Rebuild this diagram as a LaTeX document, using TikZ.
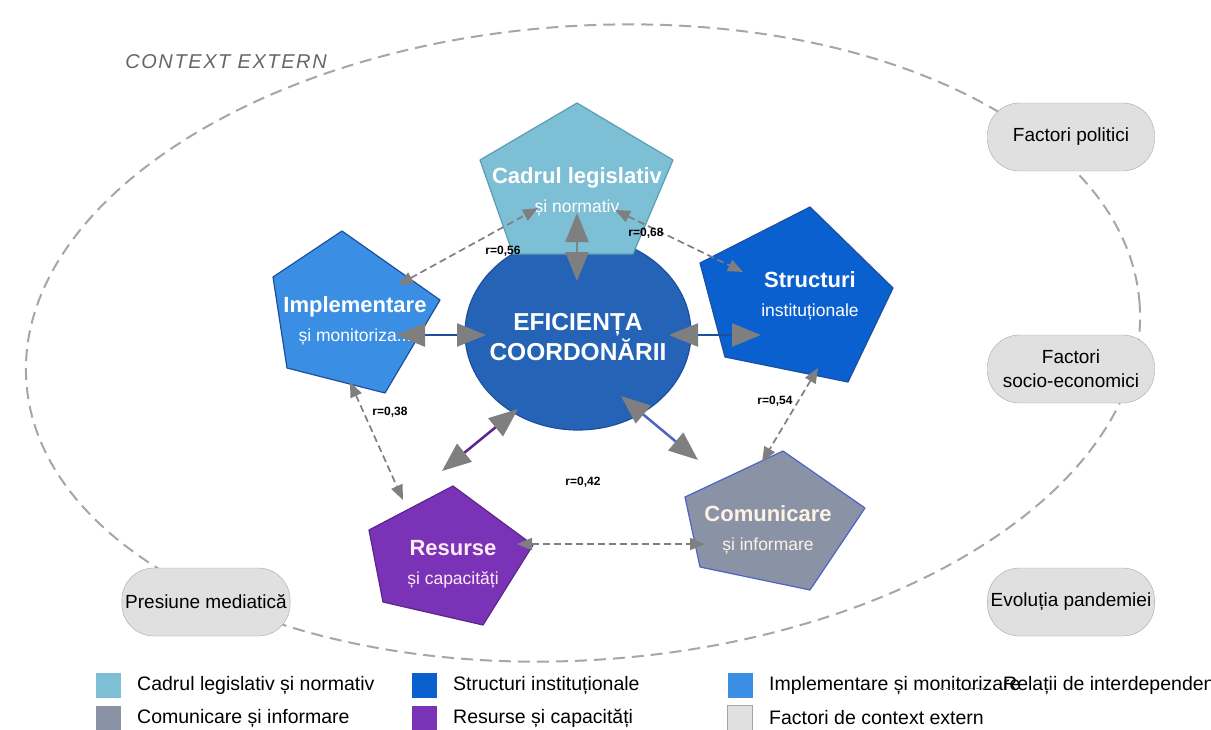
\documentclass[tikz,border=0pt]{standalone}
\usepackage{fontspec}
\setmainfont{Liberation Sans}
\newfontfamily\ctxfont[LetterSpace=8]{Liberation Sans}
\usetikzlibrary{arrows.meta,shapes.geometric}
\definecolor{cadruC}{HTML}{7DBFD4}
\definecolor{cadruB}{HTML}{5B9DB4}
\definecolor{implC}{HTML}{3A8FE4}
\definecolor{structC}{HTML}{0A60CF}
\definecolor{darkB}{HTML}{1D4F9E}
\definecolor{resC}{HTML}{7A33B6}
\definecolor{resB}{HTML}{5A2590}
\definecolor{comC}{HTML}{8A93A5}
\definecolor{comB}{HTML}{4E62C8}
\definecolor{effC}{HTML}{2563B6}
\definecolor{facC}{HTML}{E0E0E0}
\definecolor{facB}{HTML}{A6A6A6}
\definecolor{arrC}{HTML}{7F7F7F}
\newcommand{\subl}{\fontsize{17.5}{22}\selectfont\mdseries}
\begin{document}
\begin{tikzpicture}[x=1pt,y=1pt,
	pent/.style={line width=1.2pt, line join=round},
	ptext/.style={align=center, text=white, font=\fontsize{22}{29}\selectfont\bfseries},
	factor/.style={draw=facB, fill=facC, rounded corners=32pt, minimum width=167pt, minimum height=68pt, align=center, font=\fontsize{19}{24}\selectfont},
	link/.style={line width=2.5pt, {Triangle[length=29pt,width=23pt,color=arrC]}-{Triangle[length=29pt,width=23pt,color=arrC]}},
	rel/.style={arrC, line width=1.7pt, dash pattern=on 7pt off 4pt, {Triangle[length=15pt,width=12pt]}-{Triangle[length=15pt,width=12pt]}},
	rlabel/.style={font=\fontsize{12}{14}\selectfont\bfseries},
	legsq/.style={minimum size=25pt, inner sep=0pt},
	legtext/.style={anchor=west, inner sep=0pt, font=\fontsize{19.5}{22}\selectfont}]
	\useasboundingbox (0,0) rectangle (1211,-729);
	\clip (0,0) rectangle (1211,-729);
	\draw [facB, line width=2pt, dash pattern=on 12pt off 7pt, rotate around={4:(583,-343)}] (583,-343) ellipse (558 and 317);
	\node [text=black!60, font=\fontsize{20}{24}\selectfont\ctxfont\itshape] (ctx) at (226,-62) {CONTEXT EXTERN};
	\node [draw=darkB, fill=effC, line width=1.2pt, ellipse, minimum width=226pt, minimum height=194pt] (efic) at (578,-333) {};
	\node [align=center, text=white, font=\fontsize{24.5}{30}\selectfont\bfseries] (eficT) at (578,-337) {EFICIENȚA\\COORDONĂRII};
	\draw [pent, draw=cadruB, fill=cadruC] (577,-103) -- (673,-160) -- (633,-254) -- (513,-254) -- (480,-160) -- cycle;
	\node [ptext] (cadru) at (577,-192) {Cadrul legislativ\\\subl și normativ};
	\draw [pent, draw=darkB, fill=implC] (342,-231) -- (440,-300) -- (385,-393) -- (287,-368) -- (273,-277) -- cycle;
	\node [ptext] (impl) at (355,-321) {Implementare\\\subl și monitoriza...};
	\draw [pent, draw=darkB, fill=structC] (810,-207) -- (893,-288) -- (848,-382) -- (725,-357) -- (700,-263) -- cycle;
	\node [ptext] (struct) at (810,-296) {Structuri\\\subl instituționale};
	\draw [pent, draw=resB, fill=resC] (453,-486) -- (533,-545) -- (483,-625) -- (383,-602) -- (369,-530) -- cycle;
	\node [ptext, text=white!92!magenta] (res) at (453,-564) {Resurse\\\subl și capacități};
	\draw [pent, draw=comB, fill=comC] (783,-451) -- (865,-508) -- (810,-590) -- (700,-567) -- (685,-497) -- cycle;
	\node [ptext, text=white!90!orange] (com) at (768,-530) {Comunicare\\\subl și informare};
	\node [factor] (pol) at (1071,-137) {Factori politici};
	\node [factor] (soc) at (1071,-369) {Factori\\socio-economici};
	\node [factor] (pand) at (1071,-602) {Evoluția pandemiei};
	\node [factor] (media) at (206,-602) {Presiune mediatică};
	\coordinate (cadruIn) at (577,-213);
	\coordinate (eficN) at (577,-281);
	\coordinate (implIn) at (396,-335);
	\coordinate (eficW) at (486,-335);
	\coordinate (structIn) at (761,-335);
	\coordinate (eficE) at (669,-335);
	\coordinate (resIn) at (442,-471);
	\coordinate (eficSW) at (518,-409);
	\coordinate (comIn) at (698,-460);
	\coordinate (eficSE) at (621,-396);
	\draw [link, arrC!80!cadruB] (cadruIn) -- (eficN);
	\draw [link, darkB] (implIn) -- (eficW);
	\draw [link, darkB] (eficE) -- (structIn);
	\draw [link, resB] (resIn) -- (eficSW);
	\draw [link, comB] (eficSE) -- (comIn);
	\coordinate (implNE) at (398,-285);
	\coordinate (cadruW) at (538,-208);
	\coordinate (cadruE) at (615,-210);
	\coordinate (structW) at (743,-272);
	\coordinate (implS) at (350,-382);
	\coordinate (resN) at (403,-500);
	\coordinate (structS) at (818,-368);
	\coordinate (comN) at (762,-462);
	\coordinate (resE) at (517,-544);
	\coordinate (comW) at (705,-544);
	\draw [rel] (implNE) -- (cadruW);
	\draw [rel] (cadruE) -- (structW);
	\draw [rel] (implS) -- (resN);
	\draw [rel] (structS) -- (comN);
	\draw [rel] (resE) -- (comW);
	\node [rlabel] (r1) at (503,-251) {r=0,56};
	\node [rlabel] (r2) at (646,-233) {r=0,68};
	\node [rlabel] (r3) at (390,-412) {r=0,38};
	\node [rlabel] (r4) at (775,-401) {r=0,54};
	\node [rlabel] (r5) at (583,-482) {r=0,42};
	\node [legsq, fill=cadruC] (lg1) at (108,-685) {};
	\node [legtext] at (137,-685) {Cadrul legislativ și normativ};
	\node [legsq, fill=structC] (lg2) at (424,-685) {};
	\node [legtext] at (453,-685) {Structuri instituționale};
	\node [legsq, fill=implC] (lg3) at (740,-685) {};
	\node [legtext] at (769,-685) {Implementare și monitorizare};
	\draw [arrC, line width=1pt, dash pattern=on 3pt off 3pt] (940,-688) -- (990,-688);
	\node [legtext] at (1003,-685) {Relații de interdependență};
	\node [legsq, fill=comC] (lg4) at (108,-718) {};
	\node [legtext] at (137,-718) {Comunicare și informare};
	\node [legsq, fill=resC] (lg5) at (424,-718) {};
	\node [legtext] at (453,-718) {Resurse și capacități};
	\node [legsq, fill=facC, draw=facB] (lg6) at (740,-718) {};
	\node [legtext] at (769,-718) {Factori de context extern};
\end{tikzpicture}
\end{document}
